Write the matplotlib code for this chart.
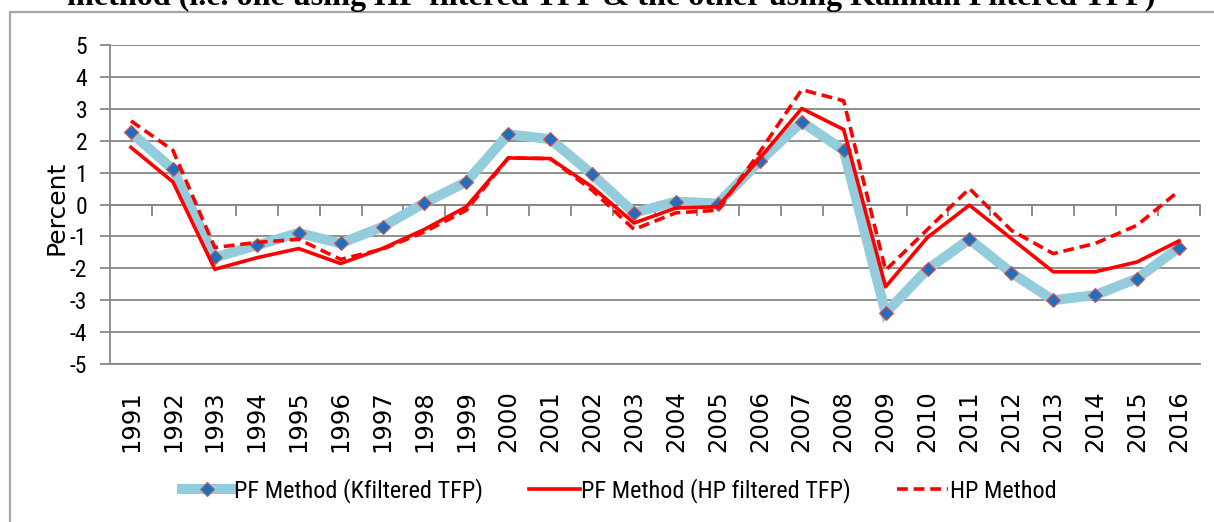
"""
PF method vs HP method output gap estimates, 1991-2016.
"""

import numpy as np
import matplotlib.pyplot as plt
from matplotlib import font_manager
from matplotlib.patches import Rectangle

# Data (percent)
years = [str(y) for y in range(1991, 2017)]
k_tfp = [2.26, 1.10, -1.66, -1.28, -0.89, -1.22, -0.70, 0.05, 0.71, 2.20,
         2.05, 0.95, -0.26, 0.09, 0.03, 1.36, 2.59, 1.70, -3.40, -2.03,
         -1.09, -2.14, -3.00, -2.84, -2.32, -1.35]
hp_tfp = [1.79, 0.71, -2.03, -1.67, -1.38, -1.85, -1.38, -0.78, -0.07, 1.46,
          1.44, 0.55, -0.58, -0.11, -0.07, 1.45, 3.01, 2.35, -2.58, -1.03,
          -0.02, -1.07, -2.11, -2.11, -1.80, -1.14]
hp_method = [2.62, 1.70, -1.35, -1.19, -1.09, -1.72, -1.40, -0.86, -0.18, 1.46,
             1.44, 0.45, -0.78, -0.26, -0.18, 1.65, 3.60, 3.25, -2.06, -0.78,
             0.50, -0.81, -1.54, -1.22, -0.65, 0.43]
y_ticks = list(range(-5, 6))

title = "method (i.e. one using HP-filtered TFP & the other using Kalman Filtered TFP)"
labels = ["PF Method (Kfiltered TFP)", "PF Method (HP filtered TFP)", "HP Method"]

GRID = "#878787"


def pick_font(*names):
    installed = {f.name for f in font_manager.fontManager.ttflist}
    for n in names:
        if n in installed:
            return n
    return "DejaVu Sans"


NARROW = pick_font("Liberation Sans Narrow", "Roboto Condensed", "Liberation Sans")
SERIF = pick_font("Liberation Serif", "DejaVu Serif")


def main():
    W, H = 1214, 522
    fig = plt.figure(figsize=(W / 100, H / 100), dpi=100)

    # outer chart frame (only left and top edges visible)
    fig.patches.append(Rectangle((10 / W, -0.2), 1.2, 1.2 - 11.5 / H,
                                 transform=fig.transFigure, fill=False,
                                 edgecolor="#A6A6A6", linewidth=1.6))

    # title, clipped off at the top of the picture
    fig.text(611 / W, 1 - 5 / H, title, ha="center", va="baseline",
             fontsize=23.1, fontweight="bold", family=SERIF)

    ax = fig.add_axes([110 / W, 1 - 364 / H, 1090 / W, 319 / H])
    x = np.arange(len(years))

    ax.plot(x, k_tfp, color="#93CDDD", lw=7.2, marker="D", ms=7.5,
            mfc="#1F6FC0", mec="#D9534F", mew=0.8, solid_joinstyle="miter",
            label=labels[0], zorder=3)
    ax.plot(x, hp_tfp, color="#FF0000", lw=2.6, label=labels[1], zorder=4)
    ax.plot(x, hp_method, color="#FF0000", lw=2.6, ls=(0, (3, 1.6)),
            label=labels[2], zorder=5)

    ax.set_xlim(-0.5, len(years) - 0.5)
    ax.set_ylim(-5, 5)
    ax.set_yticks(y_ticks)
    ax.set_yticklabels([str(t) for t in y_ticks])
    ax.yaxis.grid(True, color=GRID, lw=1.3)
    ax.set_axisbelow(True)
    ax.tick_params(axis="y", direction="out", length=7, width=1.3, color=GRID,
                   pad=9.5, labelsize=17, labelfontfamily=NARROW)

    for s in ("top", "right"):
        ax.spines[s].set_visible(False)
    ax.spines["left"].set_color(GRID)
    ax.spines["left"].set_linewidth(1.3)
    ax.spines["bottom"].set_position(("data", 0))
    ax.spines["bottom"].set_color(GRID)
    ax.spines["bottom"].set_linewidth(1.3)

    # tick marks between categories on the zero line
    ax.set_xticks([])
    ax.set_xticks(np.arange(len(years) + 1) - 0.5, minor=True)
    ax.tick_params(axis="x", which="minor", direction="out", length=8,
                   width=1.3, color=GRID)

    # year labels along the bottom
    sec = ax.secondary_xaxis("bottom")
    sec.set_xticks(x)
    sec.set_xticklabels(years, rotation=90)
    sec.tick_params(length=0, pad=19, labelsize=17.5,
                    labelfontfamily="DejaVu Sans")
    sec.spines["bottom"].set_color(GRID)
    sec.spines["bottom"].set_linewidth(1.3)

    fig.text(57 / W, 1 - 208 / H, "Percent", rotation=90, ha="center",
             va="center", fontsize=18, family="DejaVu Sans")

    fig.legend(loc="center", bbox_to_anchor=(619 / W, 1 - 491 / H), ncol=3,
               frameon=False, prop={"family": NARROW, "size": 17.5},
               handlelength=2.1, handletextpad=0.05, columnspacing=1.9)

    fig.savefig("out.png", dpi=100)


if __name__ == "__main__":
    main()
